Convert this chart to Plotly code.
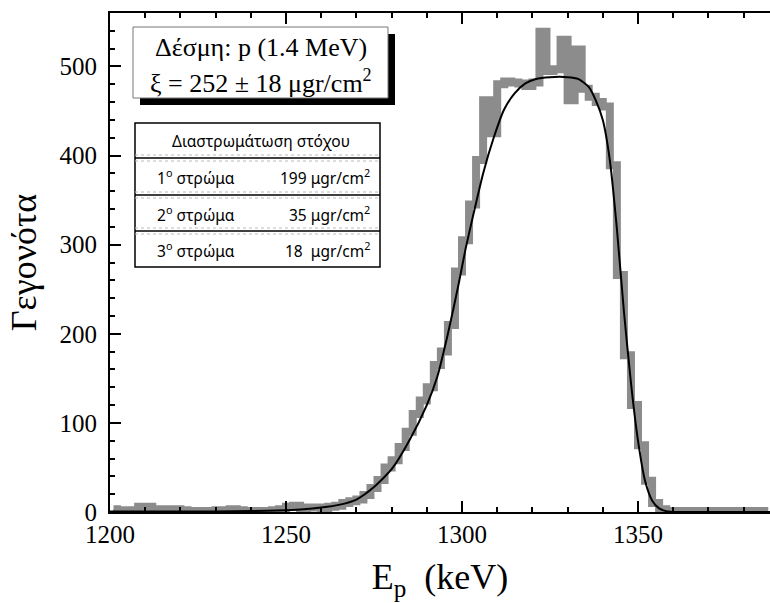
import plotly.graph_objects as go

# histogram (bin centres, 2 keV bins)
energy = [1201, 1203, 1205, 1207, 1209, 1211, 1213, 1215, 1217, 1219,
          1221, 1223, 1225, 1227, 1229, 1231, 1233, 1235, 1237, 1239,
          1241, 1243, 1245, 1247, 1249, 1251, 1253, 1255, 1257, 1259,
          1261, 1263, 1265, 1267, 1269, 1271, 1273, 1275, 1277, 1279,
          1281, 1283, 1285, 1287, 1289, 1291, 1293, 1295, 1297, 1299,
          1301, 1303, 1305, 1307, 1309, 1311, 1313, 1315, 1317, 1319,
          1321, 1323, 1325, 1327, 1329, 1331, 1333, 1335, 1337, 1339,
          1341, 1343, 1345, 1347, 1349, 1351, 1353, 1355, 1357, 1359,
          1361, 1363, 1365, 1367, 1369, 1371, 1373, 1375, 1377, 1379,
          1381, 1383, 1385, 1387]
counts = [3, 2, 2, 1, 6, 6, 3, 3, 3, 3,
          2, 1, 1, 1, 1, 2, 2, 3, 2, 1,
          1, 1, 1, 2, 3, 6, 7, 3, 5, 5,
          4, 6, 7, 10, 12, 14, 19, 27, 36, 50,
          58, 73, 90, 110, 125, 140, 165, 180, 210, 270,
          305, 345, 395, 462, 425, 480, 483, 482, 481, 478,
          482, 539, 495, 497, 530, 462, 519, 475, 466, 460,
          455, 389, 266, 176, 120, 75, 35, 10, 3, 1,
          1, 1, 1, 1, 1, 1, 1, 1, 1, 1,
          1, 1, 1, 1]

# fitted curve, points
fit_e = [1200, 1220, 1240, 1250, 1255, 1260, 1265, 1270, 1275, 1280,
         1285, 1290, 1293, 1296, 1299, 1301, 1303, 1306, 1309, 1312,
         1315, 1318, 1321, 1325, 1330, 1333, 1336, 1338, 1340, 1342,
         1344, 1346, 1348, 1350, 1352, 1354, 1356, 1358, 1361, 1370, 1388]
fit_n = [0.5, 0.5, 1, 2, 3, 5, 8, 14, 28, 48,
         80, 120, 152, 200, 255, 295, 330, 380, 420, 452,
         470, 481, 486, 488, 488, 486, 477, 462, 440, 395,
         318, 225, 145, 80, 35, 13, 4, 1, 0, 0, 0]

x_ticks = [1200, 1250, 1300, 1350]
y_ticks = [0, 100, 200, 300, 400, 500]

layers = ["1<sup>ο</sup> στρώμα", "2<sup>ο</sup> στρώμα", "3<sup>ο</sup> στρώμα"]
layer_vals = ["199 μgr/cm<sup>2</sup>", "35 μgr/cm<sup>2</sup>", "18  μgr/cm<sup>2</sup>"]

W, H = 770, 603
L, R, T, B = 110, 0, 13, 91
SERIF = "Liberation Serif"
SANS = "Noto Sans"


def px(x, y):
    # pixel position -> paper coordinates
    return (x - L) / (W - L - R), (H - B - y) / (H - T - B)


fig = go.Figure()

fig.add_trace(go.Scatter(
    x=energy, y=counts, mode="lines",
    line=dict(color="#8c8c8c", width=8, shape="hvh"),
    showlegend=False, hoverinfo="skip",
))
fig.add_trace(go.Scatter(
    x=fit_e, y=fit_n, mode="lines",
    line=dict(color="black", width=2, shape="spline", smoothing=0.6),
    showlegend=False, hoverinfo="skip",
))

shapes = []
annotations = []


def rect(x0, y0, x1, y1, **kw):
    a0, b0 = px(x0, y0)
    a1, b1 = px(x1, y1)
    shapes.append(dict(type="rect", xref="paper", yref="paper",
                       x0=a0, y0=b0, x1=a1, y1=b1, **kw))


def hline(x0, x1, y, **kw):
    a0, b = px(x0, y)
    a1, _ = px(x1, y)
    shapes.append(dict(type="line", xref="paper", yref="paper",
                       x0=a0, y0=b, x1=a1, y1=b, **kw))


def label(x, y, text, size, family, xanchor="center"):
    a, b = px(x, y)
    annotations.append(dict(xref="paper", yref="paper", x=a, y=b, text=text,
                            showarrow=False, xanchor=xanchor, yanchor="middle",
                            font=dict(size=size, family=family, color="black")))


# beam box with shadow
rect(140, 34, 395, 105, fillcolor="black", line=dict(width=0))
rect(133, 27, 388, 98, fillcolor="white", line=dict(color="#777", width=1))
label(261, 48, "Δέσμη: p (1.4 MeV)", 26, SERIF)
label(261, 81, "ξ = 252 ± 18 μgr/cm<sup>2</sup>", 26, SERIF)

# layer table
rect(135, 123, 380, 267, fillcolor="white", line=dict(color="black", width=1.5))
for yy in [158, 195, 231]:
    hline(135, 380, yy - 3, line=dict(color="#bbb", width=1, dash="dot"))
    hline(135, 380, yy, line=dict(color="black", width=1.5))
    hline(135, 380, yy + 3, line=dict(color="#bbb", width=1, dash="dot"))
label(261, 141, "Διαστρωμάτωση στόχου", 15.5, SANS)
for i, (name, val) in enumerate(zip(layers, layer_vals)):
    yy = 177 + i * 36.5
    label(155, yy, name, 15.5, SANS, xanchor="left")
    label(372, yy, val, 15.5, SANS, xanchor="right")

fig.update_layout(
    width=W, height=H,
    margin=dict(l=L, r=R, t=T, b=B, autoexpand=False),
    paper_bgcolor="white", plot_bgcolor="white",
    shapes=shapes, annotations=annotations,
    font=dict(family=SERIF, color="black"),
    xaxis=dict(
        range=[1200, 1387.5], tickvals=x_ticks,
        ticks="inside", ticklen=11, tickwidth=1.5, tickcolor="black",
        minor=dict(dtick=10, ticks="inside", ticklen=5, tickwidth=1.5, tickcolor="black"),
        showline=True, linewidth=2, linecolor="black", mirror="allticks",
        showgrid=False, zeroline=False, automargin=False,
        tickfont=dict(size=25, family=SERIF), ticklabelstandoff=-1,
        title=dict(text="E<sub>p</sub>  (keV)", font=dict(size=36, family=SERIF), standoff=17),
    ),
    yaxis=dict(
        range=[0, 560], tickvals=y_ticks,
        ticks="inside", ticklen=11, tickwidth=1.5, tickcolor="black",
        minor=dict(dtick=20, ticks="inside", ticklen=5, tickwidth=1.5, tickcolor="black"),
        showline=True, linewidth=2, linecolor="black", mirror=False,
        showgrid=False, zeroline=False, automargin=False,
        tickfont=dict(size=25, family=SERIF), ticklabelstandoff=6,
        title=dict(text="Γεγονότα", font=dict(size=36, family=SERIF), standoff=12),
    ),
)

# page has a default 8px body margin; drop it so the figure sits at the corner
fig.write_html("out.html", config={"displayModeBar": False},
               post_script="document.body.style.margin='0';")
